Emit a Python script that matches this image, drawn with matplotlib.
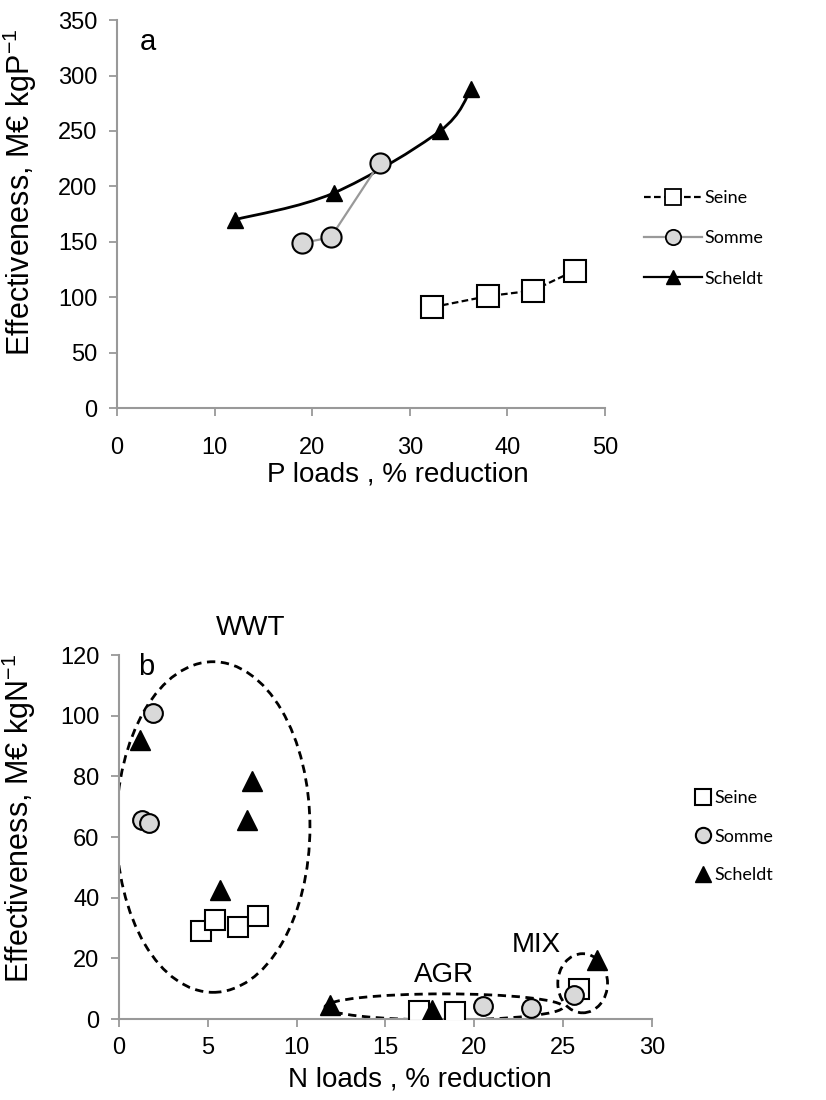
import numpy as np
import matplotlib
matplotlib.use("Agg")
import matplotlib.pyplot as plt
from matplotlib.path import Path
from matplotlib.patches import PathPatch, Ellipse
from matplotlib.lines import Line2D

plt.rcParams['font.family'] = ['Liberation Sans', 'DejaVu Sans']
plt.rcParams['mathtext.fontset'] = 'custom'
plt.rcParams['mathtext.rm'] = 'Liberation Sans'

# panel a : P loads
seine_a_x = [32.3, 38.0, 42.6, 46.9]
seine_a_y = [91, 101, 106, 124]
somme_a_x = [19.0, 21.9, 26.9]
somme_a_y = [149, 154, 221]
scheldt_a_x = [12.1, 22.2, 33.1, 36.3]
scheldt_a_y = [170, 194, 250, 288]

# panel b : N loads
seine_b_x = [4.6, 5.4, 6.7, 7.8, 16.9, 18.9, 25.9]
seine_b_y = [29, 32.5, 30.5, 34, 2.7, 2.2, 9.9]
somme_b_x = [1.9, 1.3, 1.7, 20.5, 23.2, 25.6]
somme_b_y = [101, 65.5, 64.5, 4.2, 3.8, 7.8]
scheldt_b_x = [1.2, 7.5, 7.2, 5.7, 11.9, 17.6, 26.9]
scheldt_b_y = [92, 78.5, 65.5, 42.5, 4.5, 3, 19.5]

# groups : label, centre, width, height, text position
groups = ['WWT', 'AGR', 'MIX']
grp_center = [(5.3, 63.3), (18.3, 4.0), (26.1, 11.8)]
grp_size = [(10.9, 109), (13.4, 8.6), (2.8, 19.5)]
grp_text = [(7.4, 129), (18.3, 14.5), (23.5, 24.5)]

axcol = '#999999'
gray_fill = '#d9d9d9'


def style(ax, xpad):
    for s in ['top', 'right']:
        ax.spines[s].set_visible(False)
    for s in ['left', 'bottom']:
        ax.spines[s].set_color(axcol)
        ax.spines[s].set_linewidth(1.5)
    ax.tick_params(direction='out', length=6, width=1.3, color=axcol,
                   labelsize=17, labelcolor='black')
    ax.tick_params(axis='y', pad=8)
    ax.tick_params(axis='x', pad=xpad)


def smooth_path(xs, ys):
    # catmull-rom -> cubic bezier through the points (like excel smoothed line)
    p = np.column_stack([xs, ys]).astype(float)
    pp = np.vstack([p[0], p, p[-1]])
    verts = [p[0]]
    codes = [Path.MOVETO]
    for i in range(1, len(pp) - 2):
        c1 = pp[i] + (pp[i + 1] - pp[i - 1]) / 6
        c2 = pp[i + 1] - (pp[i + 2] - pp[i]) / 6
        verts += [c1, c2, pp[i + 1]]
        codes += [Path.CURVE4] * 3
    return Path(verts, codes)


fig = plt.figure(figsize=(8.26, 11), dpi=100)

# ---- panel a
ax1 = fig.add_axes([0.1416, 0.629, 0.5908, 0.3527])
ax1.add_patch(PathPatch(smooth_path(scheldt_a_x, scheldt_a_y), fc='none',
                        ec='black', lw=2, zorder=2))
ax1.plot(scheldt_a_x, scheldt_a_y, ls='none', marker='^', ms=11,
         color='black', zorder=3)
ax1.plot(somme_a_x, somme_a_y, color=axcol, lw=1.6, marker='o', ms=14.5,
         mfc=gray_fill, mec='black', mew=1.5, zorder=3)
ax1.plot(seine_a_x, seine_a_y, color='black', lw=1.6, ls=(0, (3, 1.5)),
         marker='s', ms=15.5, mfc='white', mec='black', mew=1.5, zorder=3)
ax1.set_xlim(0, 50)
ax1.set_ylim(0, 350)
ax1.set_xticks(range(0, 51, 10))
ax1.set_yticks(range(0, 351, 50))
style(ax1, 15)
ax1.set_xlabel('P loads , % reduction', fontsize=20)
ax1.xaxis.set_label_coords(0.576, -0.137)
ax1.set_ylabel(r'Effectiveness, M€ kgP$\mathregular{^{-1}}$', fontsize=22)
ax1.yaxis.set_label_coords(-0.16, 0.555)
ax1.text(2.3, 330, 'a', fontsize=21, va='center')

h_a = [Line2D([], [], color='black', lw=1.6, ls=(0, (3, 1.5)), marker='s',
              ms=11, mfc='white', mec='black', mew=1.3),
       Line2D([], [], color=axcol, lw=1.6, marker='o', ms=11,
              mfc=gray_fill, mec='black', mew=1.3),
       Line2D([], [], color='black', lw=1.6, marker='^', ms=10)]
fig.legend(h_a, ['Seine', 'Somme', 'Scheldt'], loc='upper left',
           bbox_to_anchor=(0.769, 0.8355), frameon=False,
           prop={'family': 'Lato', 'size': 13}, handlelength=3.2,
           handletextpad=0.15, labelspacing=1.35, borderpad=0)

# ---- panel b
ax2 = fig.add_axes([0.144, 0.0736, 0.6453, 0.3309])
for c, (w, h), t, lab in zip(grp_center, grp_size, grp_text, groups):
    ax2.add_patch(Ellipse(c, w, h, fc='none', ec='black', lw=2,
                          ls=(0, (3, 2)), zorder=2))
    ax2.text(t[0], t[1], lab, fontsize=20, ha='center', va='center')
ax2.plot(seine_b_x, seine_b_y, ls='none', marker='s', ms=14.5,
         mfc='white', mec='black', mew=1.5, zorder=3)
ax2.plot(somme_b_x, somme_b_y, ls='none', marker='o', ms=13.5,
         mfc=gray_fill, mec='black', mew=1.5, zorder=3)
ax2.plot(scheldt_b_x, scheldt_b_y, ls='none', marker='^', ms=14,
         color='black', zorder=4)
ax2.set_xlim(0, 30)
ax2.set_ylim(0, 120)
ax2.set_xticks(range(0, 31, 5))
ax2.set_yticks(range(0, 121, 20))
style(ax2, 7)
ax2.set_xlabel('N loads , % reduction', fontsize=20)
ax2.xaxis.set_label_coords(0.565, -0.13)
ax2.set_ylabel(r'Effectiveness, M€ kgN$\mathregular{^{-1}}$', fontsize=22)
ax2.yaxis.set_label_coords(-0.152, 0.55)
ax2.text(1.1, 116, 'b', fontsize=21, va='center')

h_b = [Line2D([], [], ls='none', marker='s', ms=11, mfc='white',
              mec='black', mew=1.5),
       Line2D([], [], ls='none', marker='o', ms=11, mfc=gray_fill,
              mec='black', mew=1.5),
       Line2D([], [], ls='none', marker='^', ms=11, color='black')]
fig.legend(h_b, ['Seine', 'Somme', 'Scheldt'], loc='upper left',
           bbox_to_anchor=(0.832, 0.290), frameon=False,
           prop={'family': 'Lato', 'size': 13}, handlelength=0.8,
           handletextpad=0.2, labelspacing=1.25, borderpad=0)

fig.savefig('out.png', dpi=100)
